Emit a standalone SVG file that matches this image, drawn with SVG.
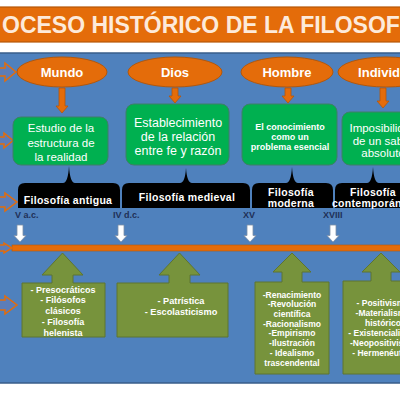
<svg xmlns="http://www.w3.org/2000/svg" width="400" height="400" viewBox="0 0 400 400">
<style>
text{font-family:"Liberation Sans",Arial,sans-serif;text-anchor:middle}
.ell{fill:#E46C0A;stroke:#B65708;stroke-width:1}
.et{fill:#fff;font-size:13px;font-weight:bold}
.oa{fill:#E46C0A;stroke:#B65708;stroke-width:0.8}
.gb{fill:#00B050;stroke:#3E7F66;stroke-width:1}
.gt{fill:#fff;font-size:11.5px}
.br{fill:#000}
.bt{fill:#fff;font-size:10.5px;font-weight:bold;letter-spacing:0.3px}
.tl{fill:#1F3057;font-size:9px;font-weight:bold;text-anchor:start}
.wa{fill:#fff;stroke:#7F8FA6;stroke-width:0.8}
.la{fill:#5C7DB8;stroke:#E46C0A;stroke-width:1.5}
.ol{fill:#77933C;stroke:#5E7530;stroke-width:1}
.ot{fill:#fff;font-size:9px;font-weight:bold}
</style>
<rect x="0" y="0" width="400" height="400" fill="#fff"/>
<g id="title">
<rect x="-2" y="7" width="404" height="35" fill="#E46C0A" stroke="#B65708" stroke-width="1.2"/>
<text x="2" y="33" style="text-anchor:start;font-size:23px;font-weight:bold;fill:#FDEADA">OCESO HISTÓRICO DE LA FILOSOFÍA</text>
</g>
<rect x="-2" y="53" width="404" height="330" fill="#4F81BD" stroke="#385D8A" stroke-width="1.5"/>
<g id="connectors">
<polygon class="oa" points="59,88 65,88 65,106 68,106 62,113 56,106 59,106"/>
<polygon class="oa" points="172,88 178,88 178,96 181,96 175,103 169,96 172,96"/>
<polygon class="oa" points="285,88 291,88 291,96 294,96 288,103 282,96 285,96"/>
<polygon class="oa" points="380,88 386,88 386,101 389,101 383,108 377,101 380,101"/>
<polygon class="la" points="-5,68 5,68 5,63 16,72 5,81 5,76 -5,76"/>
<polygon class="la" points="-5,137 4,137 4,133 13,140.5 4,148 4,144 -5,144"/>
<polygon class="la" points="-5,197 5,197 5,193 17,202 5,211 5,207 -5,207"/>
<polygon class="la" points="-5,300 5,300 5,296 17,305 5,314 5,310 -5,310"/>
<rect x="12" y="245" width="392" height="6" fill="#E46C0A" stroke="#B65708" stroke-width="0.6"/>
<polygon class="la" points="-5,245 4,245 4,243 12,248 4,253 4,251 -5,251"/>
<polygon class="wa" points="17,225 23,225 23,235.5 26,235.5 20,242 14,235.5 17,235.5"/>
<polygon class="wa" points="118,225 124,225 124,235.5 127,235.5 121,242 115,235.5 118,235.5"/>
<polygon class="wa" points="247,225 253,225 253,235.5 256,235.5 250,242 244,235.5 247,235.5"/>
<polygon class="wa" points="330,225 336,225 336,235.5 339,235.5 333,242 327,235.5 330,235.5"/>
</g>
<g id="mundo"><ellipse class="ell" cx="62" cy="72" rx="45" ry="15"/><text class="et" x="62" y="77">Mundo</text></g>
<g id="dios"><ellipse class="ell" cx="175" cy="72" rx="47" ry="15"/><text class="et" x="175" y="77">Dios</text></g>
<g id="hombre"><ellipse class="ell" cx="287" cy="72" rx="46" ry="15"/><text class="et" x="287" y="77">Hombre</text></g>
<g id="individuo"><ellipse class="ell" cx="386" cy="72" rx="48" ry="15"/><text class="et" x="387" y="77">Individuo</text></g>
<g id="box1"><rect class="gb" x="13" y="117" width="95" height="48" rx="8"/>
<text class="gt" x="61" y="132">Estudio de la</text><text class="gt" x="61" y="147">estructura de</text><text class="gt" x="61" y="161">la realidad</text></g>
<g id="box2"><rect class="gb" x="126" y="104" width="103" height="61" rx="8"/>
<text class="gt" style="font-size:12.5px" x="178" y="126.5">Establecimiento</text><text class="gt" style="font-size:12.5px" x="178" y="141">de la relación</text><text class="gt" style="font-size:12.5px" x="178" y="155">entre fe y razón</text></g>
<g id="box3"><rect class="gb" x="242" y="104" width="95" height="61" rx="8"/>
<text class="gt" style="font-size:9px;font-weight:bold" x="290" y="129.5">El conocimiento</text><text class="gt" style="font-size:9px;font-weight:bold" x="290" y="140">como un</text><text class="gt" style="font-size:9px;font-weight:bold" x="290" y="150">problema esencial</text></g>
<g id="box4"><rect class="gb" x="342" y="112" width="82" height="53" rx="8"/>
<text class="gt" style="font-size:11.5px" x="383" y="132">Imposibilidad</text><text class="gt" style="font-size:11.5px" x="383" y="144.5">de un saber</text><text class="gt" style="font-size:11.5px" x="383" y="157">absoluto</text></g>
<g id="antigua"><path class="br" d="M18,208 L18,190 Q18,183 25,183 L63,183 Q68,183 69,166 Q70,183 75,183 L113,183 Q120,183 120,190 L120,208 Z"/>
<text class="bt" x="68" y="204">Filosofía antigua</text></g>
<g id="medieval"><path class="br" d="M122,208 L122,190 Q122,183 129,183 L180,183 Q185,183 186,168 Q187,183 192,183 L243,183 Q250,183 250,190 L250,208 Z"/>
<text class="bt" x="187" y="201">Filosofía medieval</text></g>
<g id="moderna"><path class="br" d="M252,208 L252,190 Q252,183 259,183 L286,183 Q291,183 292,167 Q293,183 298,183 L326,183 Q333,183 333,190 L333,208 Z"/>
<text class="bt" x="291" y="196">Filosofía</text><text class="bt" x="291" y="207">moderna</text></g>
<g id="contemporanea"><path class="br" d="M335,208 L335,190 Q335,183 342,183 L367,183 Q372,183 373,167 Q374,183 379,183 L420,183 L420,208 Z"/>
<text class="bt" x="373" y="196">Filosofía</text><text class="bt" x="373" y="207">contemporánea</text></g>
<g id="timeline">
<text class="tl" x="15" y="218">V a.c.</text>
<text class="tl" x="113" y="218">IV d.c.</text>
<text class="tl" x="243" y="218">XV</text>
<text class="tl" x="323" y="218">XVIII</text>
</g>
<g id="c1"><path class="ol" d="M22,283 L52,283 L52,275 L42,275 L62.5,253 L83,275 L73,275 L73,283 L105,283 L105,337 L22,337 Z"/>
<text class="ot" x="63" y="292.5">- Presocráticos</text><text class="ot" x="63" y="303">- Filósofos</text><text class="ot" x="63" y="313.5">clásicos</text><text class="ot" x="63" y="325">- Filosofía</text><text class="ot" x="63" y="335.5">helenista</text></g>
<g id="c2"><path class="ol" d="M117,283 L169,283 L169,275 L159,275 L179.5,253 L200,275 L190,275 L190,283 L228,283 L228,337 L117,337 Z"/>
<text class="ot" style="font-size:9.2px" x="181" y="303.5">- Patrística</text><text class="ot" style="font-size:9.2px" x="181" y="314.5">- Escolasticismo</text></g>
<g id="c3"><path class="ol" d="M255,282 L282,282 L282,272 L273,272 L292,253 L311,272 L302,272 L302,282 L329,282 L329,374 L255,374 Z"/>
<text class="ot" style="font-size:8.5px" x="292" y="297.5">-Renacimiento</text><text class="ot" style="font-size:8.5px" x="292" y="307">-Revolución</text><text class="ot" style="font-size:8.5px" x="292" y="316.5">científica</text><text class="ot" style="font-size:8.5px" x="292" y="326.5">-Racionalismo</text><text class="ot" style="font-size:8.5px" x="292" y="336">-Empirismo</text><text class="ot" style="font-size:8.5px" x="292" y="346">-Ilustración</text><text class="ot" style="font-size:8.5px" x="292" y="355.5">- Idealismo</text><text class="ot" style="font-size:8.5px" x="292" y="365.5">trascendental</text></g>
<g id="c4"><path class="ol" d="M343,281 L371,281 L371,272 L362,272 L381,253 L400,272 L391,272 L391,281 L420,281 L420,374 L343,374 Z"/>
<text class="ot" style="font-size:8.5px" x="383" y="306">- Positivismo</text><text class="ot" style="font-size:8.5px" x="383" y="316">-Materialismo</text><text class="ot" style="font-size:8.5px" x="383" y="326">histórico</text><text class="ot" style="font-size:8.5px" x="383" y="336">- Existencialismo</text><text class="ot" style="font-size:8.5px" x="383" y="346">-Neopositivismo</text><text class="ot" style="font-size:8.5px" x="383" y="355.5">- Hermenéutica</text></g>
</svg>
